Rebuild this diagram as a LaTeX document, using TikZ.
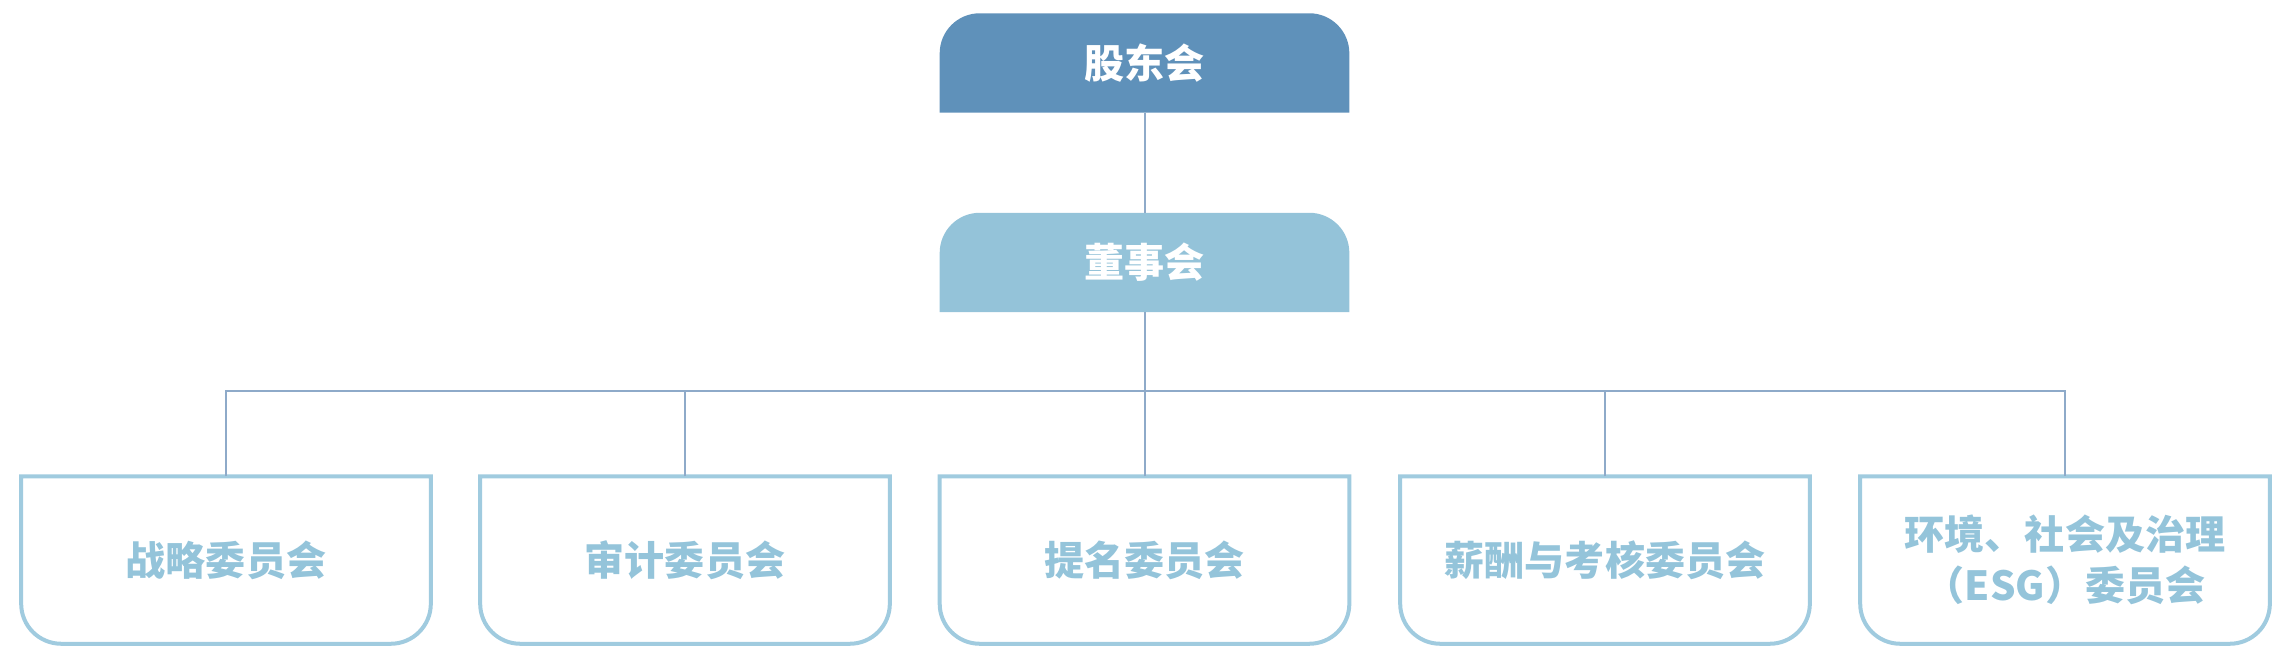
\documentclass[tikz,border=0pt]{standalone}
\usepackage{fontspec}
\newfontfamily\cjk{Noto Sans CJK SC}
\usetikzlibrary{calc}

\definecolor{darkblue}{HTML}{5F91BA}
\definecolor{lightblue}{HTML}{94C3D9}
\definecolor{linkblue}{HTML}{8EAAC9}
\definecolor{edgeblue}{HTML}{A0CBDF}
\definecolor{textblue}{HTML}{94C4DA}

\begin{document}
\begin{tikzpicture}[x=0.01cm, y=-0.01cm,
		headbox/.style={minimum width=4.08cm, minimum height=0.98cm, inner sep=0pt, text=white,
			font=\cjk\bfseries\fontsize{11.4pt}{14.5pt}\selectfont},
		combox/.style={minimum width=4.08cm, minimum height=1.66cm, inner sep=0pt, text=textblue, align=center,
			font=\cjk\bfseries\fontsize{11.4pt}{14.5pt}\selectfont},
		link/.style={draw=linkblue, line width=0.02cm}]
			\useasboundingbox (0, 0) rectangle (2292, 660);
			
			\node[headbox] (gdh) at (1144.5, 63) {};
			\node[headbox] (dsh) at (1144.5, 262.5) {};
			\fill[darkblue] (gdh.south west) [rounded corners=0.4cm] -- (gdh.north west) -- (gdh.north east) [sharp corners] -- (gdh.south east) -- cycle;
			\fill[lightblue] (dsh.south west) [rounded corners=0.4cm] -- (dsh.north west) -- (dsh.north east) [sharp corners] -- (dsh.south east) -- cycle;
			\node[headbox] at (gdh) {股东会};
			\node[headbox] at (dsh) {董事会};
			
			\node[combox] (zlwyh) at (226, 560) {战略委员会};
			\node[combox] (sjwyh) at (685, 560) {审计委员会};
			\node[combox] (tmwyh) at (1144.5, 560) {提名委员会};
			\node[combox] (xcwyh) at (1605, 560) {薪酬与考核委员会};
			\node[combox] (esgwyh) at (2065, 560) {环境、社会及治理\\（ESG）委员会};
			\foreach \c in {zlwyh, sjwyh, tmwyh, xcwyh, esgwyh}
				\draw[edgeblue, line width=0.04cm] (\c.north west) [rounded corners=0.4cm] -- (\c.south west) -- (\c.south east) [sharp corners] -- (\c.north east) -- cycle;
			
			\coordinate (bar) at (1144.5, 391);
			\draw[link] (gdh.south) -- (dsh.north);
			\draw[link] (dsh.south) -- (bar);
			\draw[link] (zlwyh.north) -- (zlwyh.north |- bar) -- (esgwyh.north |- bar) -- (esgwyh.north);
			\draw[link] (sjwyh.north) -- (sjwyh.north |- bar);
			\draw[link] (tmwyh.north) -- (bar);
			\draw[link] (xcwyh.north) -- (xcwyh.north |- bar);
		\end{tikzpicture}
\end{document}
